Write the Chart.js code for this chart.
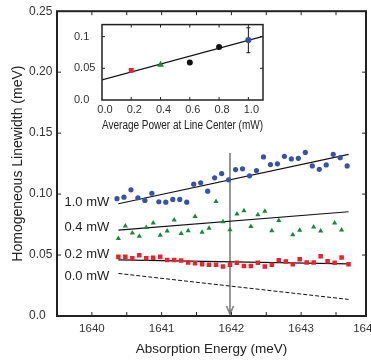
<!DOCTYPE html>
<html>
<head>
<meta charset="utf-8">
<script src="https://cdn.jsdelivr.net/npm/chart.js@4.4.1/dist/chart.umd.min.js"></script>
<style>
  html, body { margin:0; padding:0; background:#fff; overflow:hidden; width:371px; height:360px; }
  #main { position:absolute; left:0; top:0; }
  #inset { position:absolute; left:60px; top:14px; }
</style>
</head>
<body>
<canvas id="main" width="390" height="360"></canvas>
<canvas id="inset" width="215" height="121"></canvas>
<script>
// ---------- Main panel data ----------
const xTickValues = [1640, 1640.5, 1641, 1641.5, 1642, 1642.5, 1643, 1643.5, 1643.93];
const xTickLabels = ['1640', '', '1641', '', '1642', '', '1643', '', '1644'];
const yTickValues = [0, 0.05, 0.10, 0.15, 0.20, 0.25];
const yTickLabels = ['0.0', '0.05', '0.10', '0.15', '0.20', '0.25'];

const blueX = [1640.36,1640.46,1640.56,1640.66,1640.76,1640.86,1640.96,1641.06,1641.16,1641.26,1641.36,1641.46,1641.56,1641.66,1641.76,1641.86,1641.96,1642.06,1642.16,1642.26,1642.36,1642.46,1642.56,1642.66,1642.76,1642.86,1642.96,1643.06,1643.16,1643.26,1643.36,1643.46,1643.56,1643.66];
const blueY = [0.0962,0.0975,0.1035,0.0970,0.0948,0.1007,0.0937,0.0934,0.0956,0.0956,0.0934,0.1081,0.1092,0.1024,0.1133,0.1168,0.1117,0.1201,0.1207,0.1150,0.1193,0.1305,0.1242,0.1248,0.1310,0.1288,0.1293,0.1342,0.1231,0.1203,0.1239,0.1326,0.1299,0.1231];

const greenX = [1640.38,1640.48,1640.58,1640.68,1640.78,1640.88,1640.98,1641.08,1641.18,1641.28,1641.38,1641.48,1641.58,1641.68,1641.78,1641.88,1641.98,1642.08,1642.18,1642.28,1642.38,1642.48,1642.58,1642.68,1642.88,1642.98,1643.18,1643.28,1643.48,1643.58];
const greenY = [0.0635,0.0738,0.0681,0.0654,0.0725,0.0762,0.0662,0.0697,0.0787,0.0676,0.0700,0.0817,0.0686,0.0719,0.0940,0.0774,0.0708,0.0836,0.0864,0.0735,0.0831,0.0860,0.0700,0.0784,0.0667,0.0703,0.0730,0.0697,0.0762,0.0705];

const redX = [1640.38,1640.48,1640.58,1640.68,1640.78,1640.88,1640.98,1641.08,1641.18,1641.28,1641.38,1641.48,1641.58,1641.68,1641.78,1641.88,1641.98,1642.08,1642.18,1642.28,1642.38,1642.48,1642.58,1642.68,1642.78,1642.88,1642.98,1643.08,1643.18,1643.28,1643.38,1643.48,1643.58,1643.68];
const redY = [0.0485,0.0485,0.0474,0.0498,0.0474,0.0477,0.0485,0.0460,0.0460,0.0455,0.0438,0.0433,0.0425,0.0420,0.0420,0.0406,0.0420,0.0436,0.0411,0.0411,0.0436,0.0406,0.0420,0.0458,0.0447,0.0425,0.0466,0.0438,0.0438,0.0490,0.0449,0.0436,0.0480,0.0425];

const fitX = [1640.38, 1643.68];
const fit10 = [0.0921, 0.1326];
const fit04 = [0.0705, 0.0855];
const fit02 = [0.0460, 0.0427];
const fit00 = [0.0349, 0.0136];

const seriesLabels = ['1.0 mW', '0.4 mW', '0.2 mW', '0.0 mW'];
const seriesLabelX = 1639.607;
const seriesLabelY = [0.0934, 0.0724, 0.0507, 0.0321];

const arrowX = 1641.98;
const arrowY = [0.1337, 0.0016];

// ---------- Inset data ----------
const insetXTickValues = [0, 0.2, 0.4, 0.6, 0.8, 1.0];
const insetXTickLabels = ['0.0', '0.2', '0.4', '0.6', '0.8', '1.0'];
const insetYTickValues = [0, 0.05, 0.1];
const insetYTickLabels = ['0.0', '0.05', '0.1'];
const insetRed = [0.2, 0.0467];
const insetGreen = [0.4, 0.0557];
const insetBlackX = [0.6, 0.8];
const insetBlackY = [0.0591, 0.0835];
const insetBlue = [1.0, 0.0946];
const insetErr = [0.0746, 0.1140];
const insetFitX = [0, 1.1];
const insetFitY = [0.0317, 0.1006];

// ---------- helpers ----------
const FONT = "'Liberation Sans', Arial, Helvetica, sans-serif";
const pts = (xs, ys) => xs.map((x, i) => ({x: x, y: ys[i]}));

const framePlugin = {
  id: 'frame',
  afterDraw(chart, args, opts) {
    const {ctx, chartArea: a, scales} = chart;
    const xs = scales.x, ys = scales.y;
    ctx.save();
    ctx.strokeStyle = opts.color;
    ctx.lineWidth = opts.tickWidth;
    ctx.beginPath();
    xs.ticks.forEach(t => {
      const p = xs.getPixelForValue(t.value);
      if (p > a.left + 1 && p < a.right - 1) {
        ctx.moveTo(p, a.bottom); ctx.lineTo(p, a.bottom - opts.len);
        ctx.moveTo(p, a.top); ctx.lineTo(p, a.top + opts.len);
      }
    });
    ys.ticks.forEach(t => {
      const p = ys.getPixelForValue(t.value);
      if (p > a.top + 1 && p < a.bottom - 1) {
        ctx.moveTo(a.left, p); ctx.lineTo(a.left + opts.len, p);
        ctx.moveTo(a.right, p); ctx.lineTo(a.right - opts.len, p);
      }
    });
    ctx.stroke();
    ctx.lineWidth = opts.width;
    ctx.strokeRect(a.left, a.top, a.width, a.height);
    ctx.restore();
  }
};

const annotPlugin = {
  id: 'annot',
  beforeDatasetsDraw(chart) {
    const {ctx, scales: {x, y}} = chart;
    const ax = x.getPixelForValue(arrowX);
    const y0 = y.getPixelForValue(arrowY[0]);
    const y1 = y.getPixelForValue(arrowY[1]);
    ctx.save();
    ctx.strokeStyle = '#7d7d7d';
    ctx.lineWidth = 1.6;
    ctx.beginPath();
    ctx.moveTo(ax, y0); ctx.lineTo(ax, y1);
    ctx.moveTo(ax - 3.5, y1 - 8); ctx.lineTo(ax, y1); ctx.lineTo(ax + 3.5, y1 - 8);
    ctx.stroke();
    ctx.restore();
  },
  afterDatasetsDraw(chart) {
    const {ctx, scales: {x, y}} = chart;
    ctx.save();
    ctx.font = '13px ' + FONT;
    ctx.fillStyle = '#222';
    ctx.textAlign = 'left';
    ctx.textBaseline = 'middle';
    seriesLabels.forEach((t, i) => {
      ctx.fillText(t, x.getPixelForValue(seriesLabelX), y.getPixelForValue(seriesLabelY[i]));
    });
    ctx.restore();
  }
};

// ---------- Main chart ----------
new Chart(document.getElementById('main'), {
  type: 'scatter',
  data: {
    datasets: [
      { data: pts(blueX, blueY), pointStyle: 'circle', pointRadius: 2.6, backgroundColor: '#3752a6', borderWidth: 0 },
      { data: pts(greenX, greenY), pointStyle: 'triangle', pointRadius: 3, backgroundColor: '#17873d', borderWidth: 0 },
      { data: pts(redX, redY), pointStyle: 'rect', pointRadius: 3.2, backgroundColor: '#e8232b', borderWidth: 0 },
      { data: pts(fitX, fit10), showLine: true, pointRadius: 0, borderColor: '#111', borderWidth: 1.2 },
      { data: pts(fitX, fit04), showLine: true, pointRadius: 0, borderColor: '#111', borderWidth: 1.2 },
      { data: pts(fitX, fit02), showLine: true, pointRadius: 0, borderColor: '#111', borderWidth: 1.2 },
      { data: pts(fitX, fit00), showLine: true, pointRadius: 0, borderColor: '#111', borderWidth: 1, borderDash: [4, 2] }
    ]
  },
  options: {
    responsive: false,
    animation: false,
    events: [],
    layout: { padding: { left: 0, top: 10, right: 24, bottom: 0 } },
    plugins: {
      legend: { display: false },
      tooltip: { enabled: false },
      title: {
        display: true, position: 'left', fullSize: false,
        text: 'Homogeneous Linewidth (meV)',
        color: '#222', font: { family: FONT, size: 14, weight: 'normal' },
        padding: { top: 9.6, bottom: 2.6 }
      },
      frame: { color: '#222', width: 2, tickWidth: 1, len: 4 }
    },
    scales: {
      x: {
        type: 'linear', min: 1639.5, max: 1643.93,
        afterBuildTicks: s => { s.ticks = xTickValues.map(v => ({ value: v })); },
        afterFit: s => { s.height = 44; },
        grid: { display: false, drawTicks: false },
        border: { display: false },
        ticks: {
          autoSkip: false, maxRotation: 0, padding: 6, color: '#333',
          font: { family: FONT, size: 11.5 },
          callback: (v, i) => xTickLabels[i]
        },
        title: {
          display: true, text: 'Absorption Energy (meV)', color: '#222',
          font: { family: FONT, size: 13.5 }, padding: { top: 0, bottom: 3 }
        }
      },
      y: {
        type: 'linear', min: 0, max: 0.25,
        afterBuildTicks: s => { s.ticks = yTickValues.map(v => ({ value: v })); },
        afterFit: s => { s.width = 28; },
        grid: { display: false, drawTicks: false },
        border: { display: false },
        ticks: {
          crossAlign: 'far', padding: 4, color: '#333',
          font: { family: FONT, size: 12 },
          callback: (v, i) => yTickLabels[i]
        }
      }
    }
  },
  plugins: [framePlugin, annotPlugin]
});

// ---------- Inset chart ----------
new Chart(document.getElementById('inset'), {
  type: 'scatter',
  data: {
    datasets: [
      { data: [{ x: insetRed[0], y: insetRed[1] }], pointStyle: 'rect', pointRadius: 3.4, backgroundColor: '#e8232b', borderWidth: 0 },
      { data: [{ x: insetGreen[0], y: insetGreen[1] }], pointStyle: 'triangle', pointRadius: 3.9, backgroundColor: '#17873d', borderWidth: 0 },
      { data: pts(insetBlackX, insetBlackY), pointStyle: 'circle', pointRadius: 3, backgroundColor: '#111', borderWidth: 0 },
      { data: [{ x: insetBlue[0], y: insetBlue[1] }], pointStyle: 'circle', pointRadius: 3.1, backgroundColor: '#3752a6', borderWidth: 0 },
      { data: [{ x: insetBlue[0], y: insetErr[0] }, { x: insetBlue[0], y: insetErr[1] }], showLine: true,
        borderColor: '#111', borderWidth: 1, pointStyle: 'line', pointRadius: 2, pointBorderColor: '#111', pointBorderWidth: 1 },
      { data: pts(insetFitX, insetFitY), showLine: true, pointRadius: 0, borderColor: '#111', borderWidth: 1.3 }
    ]
  },
  options: {
    responsive: false,
    animation: false,
    events: [],
    layout: { padding: { left: 14, top: 7, right: 12, bottom: 0 } },
    plugins: {
      legend: { display: false },
      tooltip: { enabled: false },
      frame: { color: '#222', width: 1.5, tickWidth: 1, len: 3 }
    },
    scales: {
      x: {
        type: 'linear', min: 0, max: 1.1,
        afterBuildTicks: s => { s.ticks = insetXTickValues.map(v => ({ value: v })); },
        afterFit: s => { s.height = 35; },
        grid: { display: false, drawTicks: false },
        border: { display: false },
        ticks: {
          autoSkip: false, maxRotation: 0, padding: 3, labelOffset: 3, color: '#333',
          font: { family: FONT, size: 11 },
          callback: (v, i) => insetXTickLabels[i]
        },
        title: {
          display: true, text: 'Average Power at Line Center (mW)', color: '#222',
          font: { family: FONT, size: 12 }, padding: { top: 0, bottom: 2.5 }
        }
      },
      y: {
        type: 'linear', min: 0, max: 0.119,
        afterBuildTicks: s => { s.ticks = insetYTickValues.map(v => ({ value: v })); },
        afterFit: s => { s.width = 28; },
        grid: { display: false, drawTicks: false },
        border: { display: false },
        ticks: {
          crossAlign: 'far', padding: 4, color: '#333',
          font: { family: FONT, size: 11 },
          callback: (v, i) => insetYTickLabels[i]
        }
      }
    }
  },
  plugins: [framePlugin]
});
</script>
</body>
</html>
